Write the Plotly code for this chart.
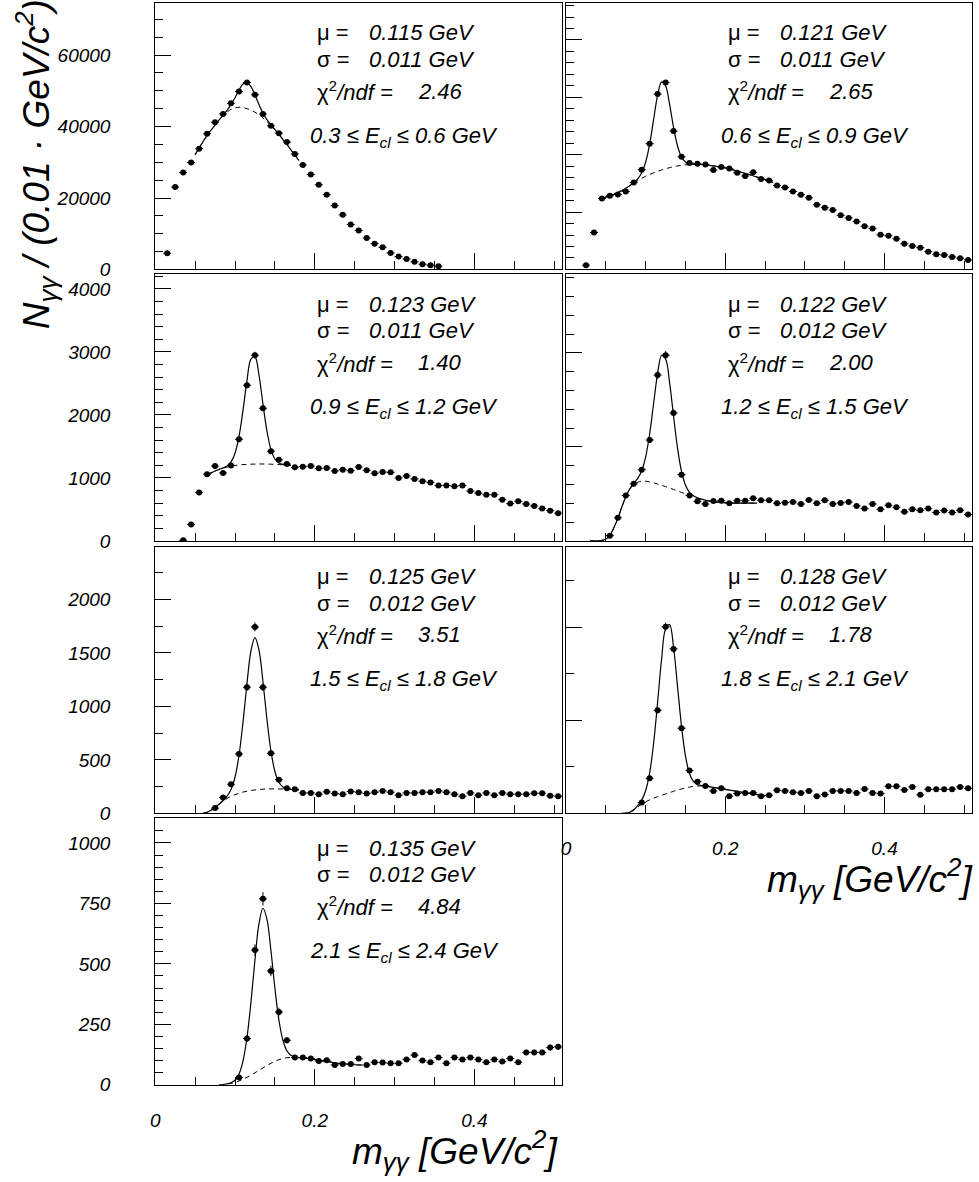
import math
import plotly.graph_objects as go

W, H = 979, 1182

# ---------------- data ----------------
MASS_BINS = [0.005, 0.015, 0.025, 0.035, 0.045, 0.055, 0.065, 0.075, 0.085, 0.095,
             0.105, 0.115, 0.125, 0.135, 0.145, 0.155, 0.165, 0.175, 0.185, 0.195,
             0.205, 0.215, 0.225, 0.235, 0.245, 0.255, 0.265, 0.275, 0.285, 0.295,
             0.305, 0.315, 0.325, 0.335, 0.345, 0.355, 0.365, 0.375, 0.385, 0.395,
             0.405, 0.415, 0.425, 0.435, 0.445, 0.455, 0.465, 0.475, 0.485, 0.495,
             0.505]

N = None
counts_03_06 = [N, 4540, 23060, 27130, 29910, 33800, 37970, 41210, 43520, 46490,
                49820, 52320, 48890, 43520, 40190, 38150, 35650, 32320, 29260, 26580,
                23710, 20930, 17870, 15280, 12590, 10930, 8800, 7220, 6200, 4630,
                3610, 2960, 2130, 1480, 1200, 930, N, N, N, N,
                N, N, N, N, N, N, N, N, N, N, N]
counts_06_09 = [N, N, 750, 6450, 12380, 12840, 13070, 13590, 15140, 17390,
                21930, 30570, 32590, 24120, 19630, 18540, 18420, 18310, 17330, 17850,
                17620, 16870, 16290, 16930, 15770, 15490, 14620, 14280, 13590, 13010,
                12490, 11280, 10770, 10360, 9440, 8980, 8350, 7540, 7140, 6040,
                5870, 5350, 4490, 4090, 3800, 3110, 2650, 2530, 2190, 1960, 1670]
counts_09_12 = [N, N, N, 10, 262, 770, 1058, 1189, 1079, 1199,
                1613, 2471, 2948, 2105, 1424, 1288, 1220, 1168, 1178, 1189,
                1152, 1157, 1110, 1131, 1115, 1173, 1120, 1073, 1094, 1089,
                1000, 1031, 984, 948, 927, 880, 880, 869, 880, 791,
                759, 733, 733, 655, 592, 628, 586, 555, 513, 480, 440]
counts_12_15 = [N, N, N, N, N, 56, 246, 484, 607, 758,
                1074, 1765, 1976, 1361, 705, 484, 421, 393, 425, 428,
                400, 428, 428, 453, 432, 432, 400, 407, 414, 393,
                435, 400, 432, 393, 404, 414, 372, 344, 393, 337,
                379, 358, 309, 337, 326, 344, 302, 323, 302, 326, 281]
counts_15_18 = [N, N, N, N, N, N, N, 49, 148, 272,
                555, 1179, 1744, 1179, 562, 315, 235, 225, 191, 191,
                179, 201, 185, 179, 204, 198, 185, 198, 210, 198,
                170, 191, 191, 198, 198, 210, 198, 179, 160, 191,
                170, 191, 170, 191, 179, 179, 179, 188, 188, 164, 160]
counts_18_21 = [N, N, N, N, N, N, N, N, N, 117,
                376, 1106, 2004, 1766, 915, 461, 340, 294, 241, 270,
                184, 213, 220, 220, 184, 195, 248, 241, 227, 220,
                241, 184, 202, 241, 241, 241, 220, 262, 220, 213,
                291, 291, 252, 284, 199, 259, 259, 259, 259, 284, 270]
counts_21_24 = [N, N, N, N, N, N, N, N, N, N,
                30, 191, 557, 769, 471, 301, 184, 113, 113, 109,
                98, 102, 82, 86, 86, 109, 82, 93, 92, 89,
                89, 105, 123, 100, 93, 113, 89, 113, 105, 113,
                105, 93, 105, 96, 109, 93, 134, 134, 134, 154, 157]

# background of the fit, knots in GeV
bgx_03_06 = [0.05, 0.055, 0.06, 0.065, 0.07, 0.075, 0.08, 0.085, 0.09, 0.095, 0.10,
             0.105, 0.11, 0.115, 0.12, 0.125, 0.13, 0.135, 0.14, 0.145, 0.15,
             0.155, 0.16, 0.165, 0.17, 0.175, 0.18]
bgy_03_06 = [32100, 34000, 35800, 37500, 39000, 40400, 41800, 43000, 44000, 44800, 45200,
             45400, 45300, 45000, 44600, 44000, 43300, 42400, 41400, 40300, 39100,
             37800, 36400, 35000, 33500, 32000, 30500]
bgx_06_09 = [0.045, 0.05, 0.055, 0.06, 0.065, 0.07, 0.075, 0.08, 0.085, 0.09, 0.095,
             0.10, 0.105, 0.11, 0.115, 0.12, 0.125, 0.13, 0.135, 0.14, 0.145, 0.15,
             0.155, 0.16, 0.17, 0.18, 0.19, 0.20, 0.21, 0.22, 0.23, 0.24, 0.25, 0.26]
bgy_06_09 = [12380, 12600, 12850, 13100, 13400, 13750, 14150, 14600, 15050, 15500, 15900,
             16250, 16550, 16850, 17100, 17350, 17550, 17750, 17900, 18050, 18150, 18250,
             18300, 18330, 18300, 18150, 17950, 17700, 17350, 16950, 16550, 16100, 15650, 15150]
bgx_09_12 = [0.065, 0.07, 0.075, 0.08, 0.085, 0.09, 0.095, 0.10, 0.105, 0.11, 0.115,
             0.12, 0.125, 0.13, 0.135, 0.14, 0.145, 0.15, 0.155, 0.16, 0.165, 0.17]
bgy_09_12 = [1050, 1080, 1110, 1135, 1155, 1172, 1186, 1197, 1205, 1211, 1215,
             1218, 1220, 1221, 1221, 1220, 1218, 1215, 1212, 1208, 1204, 1200]
bgx_12_15 = [0.03, 0.035, 0.04, 0.045, 0.05, 0.055, 0.06, 0.065, 0.07, 0.075, 0.08,
             0.085, 0.09, 0.095, 0.10, 0.105, 0.11, 0.115, 0.12, 0.125, 0.13, 0.135,
             0.14, 0.145, 0.15, 0.155, 0.16, 0.165, 0.17, 0.175, 0.18,
             0.19, 0.20, 0.21, 0.22, 0.23, 0.24]
bgy_12_15 = [0, 0, 0, 5, 20, 60, 140, 240, 360, 470, 550,
             600, 625, 635, 635, 628, 618, 605, 592, 578, 563, 548,
             532, 516, 500, 484, 470, 456, 444, 433, 424,
             412, 406, 403, 402, 402, 403]
bgx_15_18 = [0.06, 0.065, 0.07, 0.075, 0.08, 0.085, 0.09, 0.095, 0.10, 0.105, 0.11,
             0.115, 0.12, 0.125, 0.13, 0.135, 0.14, 0.145, 0.15, 0.155, 0.16,
             0.165, 0.17, 0.175, 0.18]
bgy_15_18 = [0, 10, 30, 55, 85, 115, 140, 160, 175, 188, 199,
             207, 214, 219, 223, 226, 228, 229, 229, 228, 227,
             225, 223, 221, 219]
bgx_18_21 = [0.07, 0.075, 0.08, 0.085, 0.09, 0.095, 0.10, 0.105, 0.11, 0.115, 0.12,
             0.125, 0.13, 0.135, 0.14, 0.145, 0.15, 0.155, 0.16, 0.165, 0.17,
             0.175, 0.18, 0.19, 0.20, 0.21, 0.22, 0.23, 0.24, 0.25, 0.255]
bgy_18_21 = [0, 2, 12, 35, 70, 100, 125, 145, 163, 180, 195,
             208, 222, 237, 250, 262, 273, 282, 290, 294, 295,
             292, 286, 272, 258, 243, 228, 214, 201, 192, 190]
bgx_21_24 = [0.08, 0.085, 0.09, 0.095, 0.10, 0.105, 0.11, 0.115, 0.12, 0.125, 0.13,
             0.135, 0.14, 0.145, 0.15, 0.155, 0.16, 0.165, 0.17, 0.175, 0.18,
             0.19, 0.20, 0.21, 0.22, 0.23, 0.24, 0.25, 0.26]
bgy_21_24 = [0, 1, 3, 6, 10, 16, 23, 31, 40, 50, 60,
             70, 80, 89, 97, 104, 109, 112, 113, 113, 112,
             109, 104, 99, 94, 89, 86, 83, 82]

# fit results shown in the panels
fit_mu = [0.115, 0.121, 0.123, 0.122, 0.125, 0.128, 0.135]
fit_sigma = [0.011, 0.011, 0.011, 0.012, 0.012, 0.012, 0.012]
fit_amp = [7300, 15400, 1730, 1400, 1425, 1830, 660]
fit_chi2 = ["2.46", "2.65", "1.40", "2.00", "3.51", "1.78", "4.84"]
energy_lo = ["0.3", "0.6", "0.9", "1.2", "1.5", "1.8", "2.1"]
energy_hi = ["0.6", "0.9", "1.2", "1.5", "1.8", "2.1", "2.4"]
mu_text = ["0.115", "0.121", "0.123", "0.122", "0.125", "0.128", "0.135"]
sigma_text = ["0.011", "0.011", "0.011", "0.012", "0.012", "0.012", "0.012"]

COUNTS = [counts_03_06, counts_06_09, counts_09_12, counts_12_15,
          counts_15_18, counts_18_21, counts_21_24]
BGX = [bgx_03_06, bgx_06_09, bgx_09_12, bgx_12_15, bgx_15_18, bgx_18_21, bgx_21_24]
BGY = [bgy_03_06, bgy_06_09, bgy_09_12, bgy_12_15, bgy_15_18, bgy_18_21, bgy_21_24]

# ---------------- layout geometry (pixels) ----------------
COLS = [(151, 560), (564, 972)]
ROWS = [(3.3, 272), (277, 546), (551.7, 821), (826, 1095)]
PANEL_POS = [(0, 0), (0, 1), (1, 0), (1, 1), (2, 0), (2, 1), (3, 0)]
Y_RANGE = [74500, 46400, 4230, 2835, 2495, 2865, 1102]
Y_DTICK = [20000, 10000, 1000, 1000, 500, 1000, 250]
Y_MINOR = [5000, 2000, 200, 200, 250, 500, 50]
X_LABELS = [False, False, False, False, False, True, True]

FONT = "Liberation Sans"
TICKFONT = dict(family=FONT, size=19, color="black", style="italic")

fig = go.Figure()
annotations = []
layout_axes = {}


def px_x(x):
    return x / W


def px_y(y):
    return 1 - y / H


for k in range(7):
    r, c = PANEL_POS[k]
    x0, x1 = COLS[c]
    y0, y1 = ROWS[r]
    idx = k + 1
    xa = "x" if idx == 1 else f"x{idx}"
    ya = "y" if idx == 1 else f"y{idx}"
    xkey = "xaxis" if idx == 1 else f"xaxis{idx}"
    ykey = "yaxis" if idx == 1 else f"yaxis{idx}"

    layout_axes[xkey] = dict(
        domain=[px_x(x0), px_x(x1)], anchor=ya, range=[0, 0.51],
        showline=True, mirror=True, linecolor="black", linewidth=1,
        ticks="inside", ticklen=16, tickwidth=1, tickcolor="black",
        tick0=0, dtick=0.2,
        minor=dict(dtick=0.05, ticklen=8, ticks="inside", tickcolor="black", tickwidth=1),
        showgrid=False, zeroline=False,
        showticklabels=X_LABELS[k], tickfont=TICKFONT, ticklabelstandoff=18,
    )
    layout_axes[ykey] = dict(
        domain=[px_y(y1), px_y(y0)], anchor=xa, range=[0, Y_RANGE[k]],
        showline=True, mirror=True, linecolor="black", linewidth=1,
        ticks="inside", ticklen=16, tickwidth=1, tickcolor="black",
        tick0=0, dtick=Y_DTICK[k], tickformat="d",
        minor=dict(dtick=Y_MINOR[k], ticklen=8, ticks="inside", tickcolor="black", tickwidth=1),
        showgrid=False, zeroline=False,
        showticklabels=(c == 0), tickfont=TICKFONT, ticklabelstandoff=40,
    )

    mu, sg, A = fit_mu[k], fit_sigma[k], fit_amp[k]
    total = [b + A * math.exp(-0.5 * ((x - mu) / sg) ** 2) for x, b in zip(BGX[k], BGY[k])]

    fig.add_trace(go.Scatter(
        x=BGX[k], y=BGY[k], mode="lines", xaxis=xa, yaxis=ya,
        line=dict(color="black", width=1, dash="5px,4px", shape="spline"),
        hoverinfo="skip", showlegend=False))
    fig.add_trace(go.Scatter(
        x=BGX[k], y=total, mode="lines", xaxis=xa, yaxis=ya,
        line=dict(color="black", width=1.2, shape="spline"),
        hoverinfo="skip", showlegend=False))
    fig.add_trace(go.Scatter(
        x=MASS_BINS, y=COUNTS[k], mode="markers", xaxis=xa, yaxis=ya,
        marker=dict(color="black", size=6),
        error_x=dict(type="constant", value=0.005, thickness=1, width=0, color="black"),
        error_y=dict(type="sqrt", thickness=1, width=0, color="black"),
        showlegend=False))

    # statistics text
    tf = dict(family=FONT, size=22, color="black")
    lines = [
        (y0 + 30, "μ =", f"<i>{mu_text[k]} GeV</i>", 213),
        (y0 + 57, "σ =", f"<i>{sigma_text[k]} GeV</i>", 213),
        (y0 + 89, "χ<sup>2</sup><i>/ndf =</i>", f"<i>{fit_chi2[k]}</i>", 262),
    ]
    for yy, lab, val, dx in lines:
        annotations.append(dict(x=px_x(x0 + 161), y=px_y(yy), xref="paper", yref="paper",
                                text=lab, showarrow=False, xanchor="left", yanchor="middle",
                                font=tf))
        annotations.append(dict(x=px_x(x0 + dx), y=px_y(yy), xref="paper", yref="paper",
                                text=val, showarrow=False, xanchor="left", yanchor="middle",
                                font=tf))
    annotations.append(dict(
        x=px_x(x0 + 154), y=px_y(y0 + 135), xref="paper", yref="paper",
        text=f"<i>{energy_lo[k]} ≤ E<sub>cl</sub> ≤ {energy_hi[k]} GeV</i>",
        showarrow=False, xanchor="left", yanchor="middle", font=tf))

# axis titles
title_font = dict(family=FONT, size=37, color="black", style="italic")
annotations.append(dict(
    x=px_x(31), y=px_y(166), xref="paper", yref="paper", textangle=-90,
    text="N<sub>γγ</sub> / (0.01 · GeV/c<sup>2</sup>)", showarrow=False,
    xanchor="center", yanchor="middle", font=title_font))
annotations.append(dict(
    x=px_x(558), y=px_y(1161), xref="paper", yref="paper",
    text="m<sub>γγ</sub> [GeV/c<sup>2</sup>]", showarrow=False,
    xanchor="right", yanchor="middle", font=title_font))
annotations.append(dict(
    x=px_x(975), y=px_y(887), xref="paper", yref="paper",
    text="m<sub>γγ</sub> [GeV/c<sup>2</sup>]", showarrow=False,
    xanchor="right", yanchor="middle", font=title_font))

fig.update_layout(
    width=W, height=H, margin=dict(l=0, r=0, t=0, b=0),
    paper_bgcolor="white", plot_bgcolor="white",
    showlegend=False, annotations=annotations, **layout_axes)

fig.write_html("out.html")
